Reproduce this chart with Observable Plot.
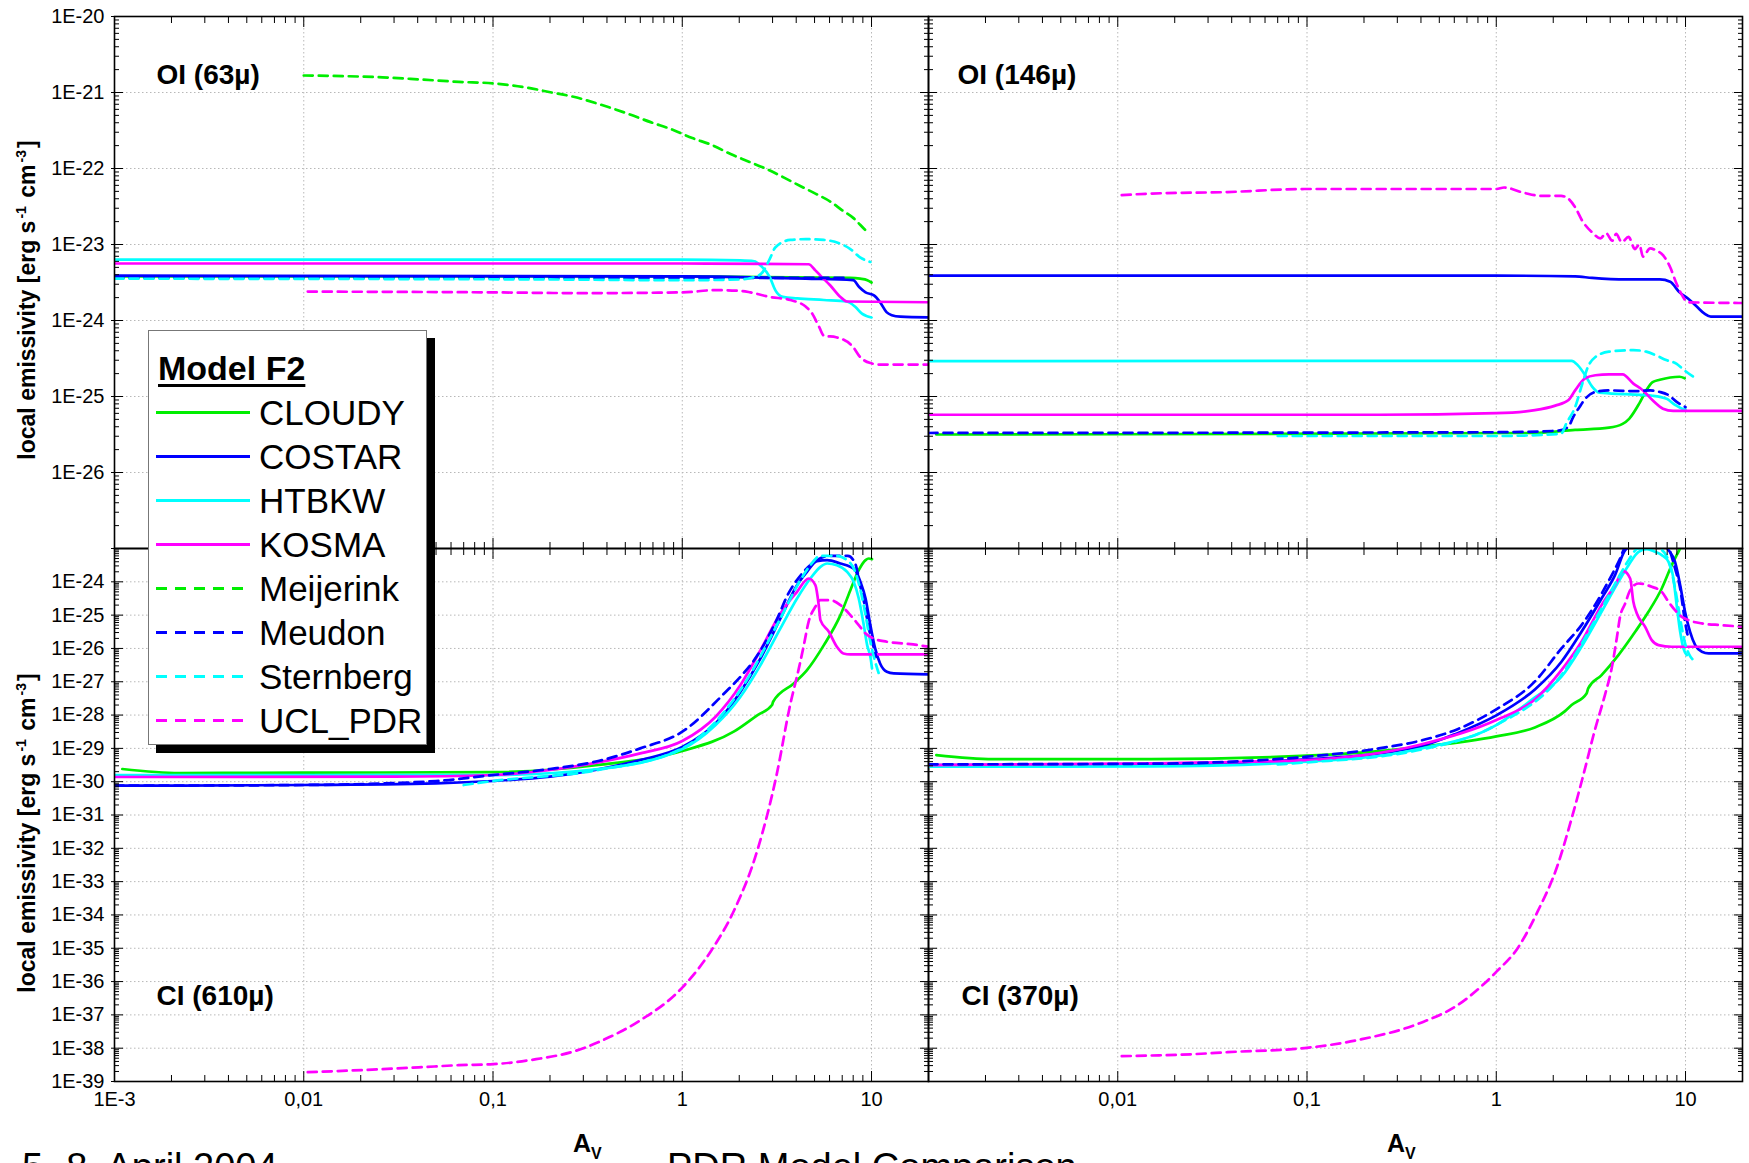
<!DOCTYPE html>
<html>
<head>
<meta charset="utf-8">
<script src="https://cdn.jsdelivr.net/npm/d3@7"></script>
<script src="https://cdn.jsdelivr.net/npm/@observablehq/plot@0.6"></script>
<style>
  body { margin: 0; background: #fff; }
  #wrap { position: relative; width: 1749px; height: 1163px; overflow: hidden; background: #fff;
          font-family: "Liberation Sans", Arial, Helvetica, sans-serif; color: #000; }
  .pnl { position: absolute; }
  .ylab { position: absolute; transform: translate(-50%, -50%) rotate(-90deg); white-space: nowrap;
          font-weight: bold; font-size: 23px; z-index: 5; }
  .ylab sup { font-size: 14px; vertical-align: 9px; line-height: 0; margin: 0 2px; }
  .av { position: absolute; font-weight: bold; font-size: 25px; white-space: nowrap; line-height: 1; }
  .av sub { font-size: 16px; vertical-align: -7px; line-height: 0; }
  .foot { position: absolute; font-size: 38px; white-space: nowrap; line-height: 1; }
  #legend { position: absolute; left: 148px; top: 330px; width: 277px; height: 413px; background: #fff;
            border: 1px solid #777; box-shadow: 8px 8px 0 #000; z-index: 10; }
</style>
</head>
<body>
<div id="wrap"></div>
<script>
// ---------------- categories / labels ----------------
const models = ["CLOUDY", "COSTAR", "HTBKW", "KOSMA", "Meijerink", "Meudon", "Sternberg", "UCL_PDR"];
const modelColors = ["#00ee00", "#0000ff", "#00ffff", "#ff00ff", "#00ee00", "#0000ff", "#00ffff", "#ff00ff"];
const modelDashed = [false, false, false, false, true, true, true, true];
const panelTitles = ["OI (63µ)", "OI (146µ)", "CI (610µ)", "CI (370µ)"];
const legendTitle = "Model F2";
const yAxisTitle = "local emissivity [erg s<sup>-1</sup> cm<sup>-3</sup>]";
const xTickValues = [0.001, 0.01, 0.1, 1, 10];
const xTickLabels = ["1E-3", "0,01", "0,1", "1", "10"];
const yTopTickValues = [1e-20, 1e-21, 1e-22, 1e-23, 1e-24, 1e-25, 1e-26];
const yTopTickLabels = ["1E-20", "1E-21", "1E-22", "1E-23", "1E-24", "1E-25", "1E-26"];
const yBotTickValues = [1e-24, 1e-25, 1e-26, 1e-27, 1e-28, 1e-29, 1e-30, 1e-31, 1e-32, 1e-33, 1e-34, 1e-35, 1e-36, 1e-37, 1e-38, 1e-39];
const yBotTickLabels = ["1E-24", "1E-25", "1E-26", "1E-27", "1E-28", "1E-29", "1E-30", "1E-31", "1E-32", "1E-33", "1E-34", "1E-35", "1E-36", "1E-37", "1E-38", "1E-39"];

// ---------------- data: [A_V, log10(emissivity)] ----------------
// OI (63µ)
const OI63_CLOUDY = [[0.001,-23.42],[1,-23.42],[7.7,-23.44],[8.7,-23.45],[9.5,-23.47],[10,-23.5]];
const OI63_COSTAR = [[0.001,-23.41],[1,-23.42],[4.5,-23.45],[8.0,-23.47],[8.6,-23.56],[9.3,-23.63],[10.3,-23.67],[11.1,-23.76],[12,-23.89],[12.8,-23.93],[14.2,-23.95],[20,-23.96]];
const OI63_HTBKW = [[0.001,-23.2],[1,-23.2],[2.03,-23.21],[2.4,-23.22],[2.6,-23.28],[2.9,-23.43],[3.1,-23.6],[3.4,-23.69],[4.05,-23.71],[5.6,-23.73],[7.4,-23.75],[8.2,-23.82],[8.9,-23.91],[10,-23.96]];
const OI63_KOSMA = [[0.001,-23.25],[1,-23.25],[4.65,-23.26],[5.05,-23.34],[5.37,-23.41],[6.06,-23.54],[6.85,-23.69],[7.4,-23.75],[20,-23.76]];
const OI63_Meijerink = [[0.01,-20.776],[0.0165,-20.785],[0.026,-20.8],[0.042,-20.83],[0.066,-20.86],[0.1,-20.88],[0.154,-20.94],[0.204,-21.0],[0.27,-21.06],[0.36,-21.15],[0.53,-21.29],[0.68,-21.39],[0.89,-21.49],[1.13,-21.6],[1.43,-21.69],[1.8,-21.81],[2.2,-21.9],[2.75,-22.0],[3.45,-22.12],[4.2,-22.23],[5.05,-22.33],[6.1,-22.44],[7,-22.55],[8,-22.65],[9.1,-22.79],[9.7,-22.86]];
const OI63_Meudon = [[0.001,-23.44],[1,-23.44],[7.5,-23.44]];
const OI63_Sternberg = [[0.001,-23.45],[0.2,-23.46],[1,-23.47],[2.0,-23.46],[2.3,-23.44],[2.6,-23.39],[2.9,-23.19],[3.1,-23.04],[3.72,-22.94],[4.5,-22.93],[5.6,-22.94],[6.85,-22.99],[7.73,-23.06],[8.7,-23.17],[9.86,-23.23]];
const OI63_UCL_PDR = [[0.0105,-23.62],[0.1,-23.63],[0.3,-23.64],[1,-23.63],[1.5,-23.6],[2.03,-23.61],[2.29,-23.63],[2.9,-23.69],[3.72,-23.73],[4.5,-23.82],[4.8,-23.89],[5.3,-24.09],[5.6,-24.2],[6.5,-24.22],[8.0,-24.35],[8.7,-24.48],[9.86,-24.56],[11.1,-24.58],[20,-24.58]];

// OI (146µ)
const OI146_CLOUDY = [[0.0011,-25.5],[1.6,-25.48],[2.61,-25.44],[3.94,-25.41],[4.65,-25.36],[5.05,-25.29],[5.7,-25.09],[6.2,-24.92],[6.7,-24.81],[7.31,-24.78],[8.3,-24.75],[9.3,-24.74],[9.9,-24.76]];
const OI146_COSTAR = [[0.001,-23.41],[1,-23.41],[2.61,-23.42],[3.21,-23.44],[4.85,-23.46],[7.31,-23.46],[8.3,-23.49],[9.3,-23.63],[10.3,-23.71],[11.5,-23.82],[12.6,-23.91],[13.6,-23.95],[20,-23.95]];
const OI146_HTBKW = [[0.001,-24.535],[1,-24.53],[2.5,-24.53],[2.7,-24.59],[2.95,-24.72],[3.21,-24.87],[3.5,-24.95],[4.85,-24.97],[6.7,-24.99],[7.95,-25.03],[8.8,-25.11],[9.6,-25.16],[10,-25.17]];
const OI146_KOSMA = [[0.001,-25.24],[0.24,-25.24],[1,-25.22],[1.6,-25.18],[2.05,-25.12],[2.4,-25.05],[2.61,-24.92],[2.95,-24.76],[3.34,-24.72],[3.94,-24.71],[4.65,-24.71],[5.3,-24.83],[5.96,-24.92],[6.7,-25.05],[7.6,-25.16],[8.6,-25.19],[20,-25.19]];
const OI146_Meudon = [[0.001,-25.48],[1,-25.47],[2.13,-25.45],[2.4,-25.4],[2.55,-25.27],[2.75,-25.14],[2.95,-25.03],[3.34,-24.94],[3.94,-24.92],[5.5,-24.93],[6.5,-24.92],[7.31,-24.94],[8.1,-24.98],[8.98,-25.07],[10,-25.14]];
const OI146_Sternberg = [[0.07,-25.52],[1,-25.52],[2.2,-25.49],[2.35,-25.35],[2.61,-25.14],[2.85,-24.83],[3.05,-24.61],[3.34,-24.48],[3.94,-24.41],[5.3,-24.39],[6.2,-24.41],[7.0,-24.46],[7.9,-24.52],[8.98,-24.57],[9.8,-24.65],[11,-24.74]];
const OI146_UCL_PDR = [[0.0105,-22.35],[0.015,-22.33],[0.038,-22.31],[0.097,-22.27],[1.0,-22.27],[1.1,-22.25],[1.4,-22.32],[1.73,-22.36],[2.2,-22.36],[2.35,-22.38],[2.61,-22.51],[2.85,-22.69],[3.21,-22.84],[3.55,-22.92],[3.8,-22.85],[4.1,-22.95],[4.3,-22.86],[4.6,-22.97],[5.0,-22.9],[5.4,-23.06],[5.7,-23.0],[5.96,-23.16],[6.5,-23.05],[7.0,-23.08],[7.6,-23.14],[8.3,-23.3],[8.98,-23.52],[9.6,-23.67],[10.3,-23.76],[20,-23.77]];

// CI (610µ)
const CI610_CLOUDY = [[0.0011,-29.62],[0.0022,-29.74],[0.01,-29.73],[0.1,-29.71],[0.36,-29.5],[1,-29.08],[1.88,-28.49],[2.5,-28.0],[2.98,-27.7],[3.02,-27.6],[3.88,-27.05],[4.56,-26.65],[5.6,-25.9],[6.85,-25.0],[7.73,-24.25],[8.56,-23.65],[9.3,-23.35],[9.67,-23.3],[10.06,-23.32]];
const CI610_COSTAR = [[0.001,-30.12],[0.01,-30.1],[0.05,-30.05],[0.1,-29.98],[0.2,-29.85],[0.36,-29.63],[0.6,-29.35],[1,-28.96],[1.5,-28.25],[2.03,-27.3],[2.59,-26.3],[3.3,-25.1],[4.04,-24.1],[4.56,-23.7],[5.15,-23.38],[5.83,-23.35],[6.85,-23.45],[7.73,-23.55],[8.21,-23.65],[8.73,-24.0],[9.3,-24.5],[9.86,-25.3],[10.45,-26.0],[11.1,-26.45],[12.05,-26.7],[13.1,-26.75],[20,-26.78]];
const CI610_HTBKW = [[0.001,-29.8],[0.1,-29.8],[0.36,-29.62],[1,-29.02],[1.5,-28.3],[2.03,-27.45],[2.59,-26.5],[3.3,-25.4],[4.04,-24.5],[4.75,-23.9],[5.37,-23.55],[5.83,-23.45],[6.56,-23.5],[7.43,-23.7],[8.05,-24.0],[8.56,-24.5],[9.1,-25.3],[9.48,-25.9],[9.9,-26.3],[10.06,-26.6]];
const CI610_KOSMA = [[0.001,-29.86],[0.03,-29.85],[0.1,-29.8],[0.2,-29.65],[0.36,-29.42],[0.6,-29.15],[1,-28.78],[1.5,-28.05],[2.03,-27.1],[2.59,-26.05],[3.3,-24.95],[4.04,-24.3],[4.65,-23.9],[5.05,-24.1],[5.26,-24.7],[5.37,-25.15],[5.95,-25.5],[6.56,-25.95],[7.1,-26.15],[7.73,-26.18],[20,-26.18]];
const CI610_Meudon = [[0.001,-30.12],[0.01,-30.1],[0.05,-29.98],[0.1,-29.8],[0.2,-29.62],[0.36,-29.38],[0.6,-29.0],[1,-28.5],[1.7,-27.3],[2.03,-26.85],[2.5,-26.2],[3.15,-25.15],[3.6,-24.4],[4.3,-23.75],[5.1,-23.36],[6,-23.22],[7.5,-23.22],[8.2,-23.45],[8.7,-24.1],[9.2,-24.7],[9.6,-25.3],[10.25,-25.95],[10.6,-26.25]];
const CI610_Sternberg = [[0.07,-30.1],[0.1,-29.98],[0.36,-29.65],[1,-29.0],[2.03,-27.25],[3.3,-25.1],[4.21,-23.95],[4.75,-23.5],[5.37,-23.22],[6.5,-23.22],[7.43,-23.35],[8.2,-23.7],[8.7,-24.2],[9.3,-25.0],[9.86,-25.8],[10.45,-26.4],[11,-26.8]];
const CI610_UCL_PDR = [[0.0105,-38.72],[0.026,-38.63],[0.042,-38.57],[0.066,-38.51],[0.1,-38.48],[0.169,-38.33],[0.27,-38.09],[0.37,-37.79],[0.59,-37.19],[1,-36.18],[1.43,-35.05],[1.88,-33.86],[2.49,-32.07],[3.15,-29.8],[3.72,-27.68],[4.13,-26.6],[4.39,-25.9],[4.65,-25.2],[5.05,-24.75],[5.37,-24.55],[6.06,-24.55],[6.85,-24.7],[7.73,-25.0],[8.56,-25.3],[9.3,-25.55],[10.25,-25.7],[12.05,-25.8],[16.6,-25.88],[20,-25.95]];

// CI (370µ)
const CI370_CLOUDY = [[0.0011,-29.2],[0.0022,-29.32],[0.015,-29.32],[0.1,-29.22],[0.39,-28.96],[1,-28.64],[1.6,-28.37],[2.3,-27.89],[2.5,-27.7],[3.0,-27.35],[3.06,-27.2],[3.6,-26.8],[4.42,-26.2],[5.42,-25.5],[6.37,-24.9],[7.49,-24.2],[8.46,-23.5],[9.17,-23.1],[9.56,-22.9]];
const CI370_COSTAR = [[0.001,-29.5],[0.015,-29.48],[0.1,-29.33],[0.39,-28.95],[0.62,-28.55],[1,-28.01],[1.6,-27.23],[2.21,-26.4],[2.82,-25.5],[3.6,-24.5],[4.24,-23.8],[4.8,-23.05],[5.5,-22.85],[7.5,-22.85],[8.13,-23.05],[8.8,-23.4],[9.37,-24.1],[9.94,-24.9],[10.57,-25.5],[11.25,-25.9],[12.2,-26.1],[13.25,-26.15],[20,-26.15]];
const CI370_HTBKW = [[0.001,-29.55],[0.015,-29.54],[0.1,-29.4],[0.39,-29.02],[1,-28.3],[1.6,-27.47],[2.21,-26.85],[2.82,-25.95],[3.6,-24.9],[4.42,-24.0],[5.0,-23.5],[5.65,-23.1],[6.25,-23.02],[6.9,-23.1],[7.49,-23.2],[8.13,-23.4],[8.63,-23.9],[8.98,-24.7],[9.37,-25.5],[9.75,-26.0],[10.15,-26.2]];
const CI370_KOSMA = [[0.001,-29.5],[0.015,-29.45],[0.1,-29.35],[0.39,-28.9],[1,-28.15],[1.6,-27.53],[2.21,-26.65],[2.82,-25.8],[3.6,-24.7],[4.24,-24.1],[4.7,-23.68],[5.1,-23.9],[5.3,-24.6],[5.53,-24.95],[6.12,-25.35],[6.63,-25.75],[7.2,-25.9],[8.46,-25.95],[20,-25.95]];
const CI370_Meudon = [[0.001,-29.48],[0.015,-29.46],[0.1,-29.25],[0.24,-29.0],[0.39,-28.78],[0.62,-28.43],[1,-27.83],[1.6,-26.99],[2.21,-26.0],[2.82,-25.3],[3.32,-24.7],[3.9,-24.0],[4.51,-23.3],[4.8,-22.95],[5.3,-22.8],[7.8,-22.8],[8.3,-23.1],[8.8,-23.6],[9.37,-24.2],[9.94,-25.2],[10.35,-25.7]];
const CI370_Sternberg = [[0.07,-29.48],[0.1,-29.42],[0.39,-29.05],[1,-28.3],[2.21,-26.8],[3.6,-24.8],[4.4,-23.9],[5.0,-23.35],[5.6,-23.0],[6.5,-22.95],[7.5,-23.05],[8.1,-23.35],[8.6,-23.9],[9.0,-24.5],[9.5,-25.3],[10.0,-25.9],[10.5,-26.2],[11,-26.35]];
const CI370_UCL_PDR = [[0.0105,-38.24],[0.015,-38.22],[0.025,-38.18],[0.038,-38.12],[0.1,-37.99],[0.195,-37.73],[0.39,-37.26],[0.62,-36.72],[1,-35.71],[1.3,-34.99],[1.65,-33.91],[2.1,-32.54],[2.5,-31.11],[2.9,-29.75],[3.3,-28.5],[3.75,-27.4],[4.07,-26.6],[4.33,-25.7],[4.51,-25.05],[4.8,-24.65],[5.1,-24.25],[5.65,-24.05],[6.63,-24.15],[7.49,-24.3],[8.13,-24.6],[8.8,-24.85],[9.56,-25.05],[10.35,-25.15],[12.2,-25.25],[15.5,-25.3],[20,-25.35]];

const seriesByKey = {
  OI63_CLOUDY, OI63_COSTAR, OI63_HTBKW, OI63_KOSMA, OI63_Meijerink, OI63_Meudon, OI63_Sternberg, OI63_UCL_PDR,
  OI146_CLOUDY, OI146_COSTAR, OI146_HTBKW, OI146_KOSMA, OI146_Meudon, OI146_Sternberg, OI146_UCL_PDR,
  CI610_CLOUDY, CI610_COSTAR, CI610_HTBKW, CI610_KOSMA, CI610_Meudon, CI610_Sternberg, CI610_UCL_PDR,
  CI370_CLOUDY, CI370_COSTAR, CI370_HTBKW, CI370_KOSMA, CI370_Meudon, CI370_Sternberg, CI370_UCL_PDR
};

// ---------------- layout ----------------
const W = document.getElementById("wrap");
const minors = (lo, hi) => {
  const out = [];
  for (let e = Math.round(Math.log10(lo)); e <= Math.round(Math.log10(hi)); e++)
    for (let k = 2; k <= 9; k++) { const v = k * Math.pow(10, e); if (v > lo && v < hi) out.push(v); }
  return out;
};
const decades = (e0, e1) => d3.range(e0, e1 + 1).map(e => Math.pow(10, e));

function makePanel(cfg) {
  const {fx, fy, fw, fh, yDom, title, tdx, tdy, series, yLab, xLab} = cfg;
  const mL = yLab ? 112 : 14, mR = 14, mT = 14, mB = xLab ? 40 : 14;
  const yMaj = decades(Math.round(Math.log10(yDom[0])), Math.round(Math.log10(yDom[1])));
  const yMin = minors(yDom[0], yDom[1]);
  const xMaj = xTickValues;
  const xMin = minors(1e-3, 20);
  const gridStyle = {stroke: "#b8b8b8", strokeWidth: 1, strokeDasharray: "1.5,2.5"};
  const marks = [
    Plot.ruleX(xMaj.filter(v => v > 1e-3), gridStyle),
    Plot.ruleY(yMaj.filter(v => v > yDom[0] * 1.01 && v < yDom[1] * 0.99), gridStyle)
  ];
  for (const s of series) {
    const i = models.indexOf(s.name);
    marks.push(Plot.line(s.data, {
      x: d => d[0], y: d => Math.pow(10, d[1]),
      stroke: modelColors[i], strokeWidth: 2.7,
      strokeDasharray: modelDashed[i] ? "9,6" : null,
      curve: "monotone-x", clip: true, strokeLinejoin: "round"
    }));
  }
  const blank = () => "";
  for (const anchor of ["top", "bottom"]) {
    marks.push(Plot.axisX({ticks: xMin, anchor, tickSize: -6, tickFormat: blank, label: null}));
    marks.push(Plot.axisX({ticks: xMaj, anchor, tickSize: -10, tickFormat: blank, label: null}));
  }
  for (const anchor of ["left", "right"]) {
    marks.push(Plot.axisY({ticks: yMin, anchor, tickSize: -5, tickFormat: blank, label: null}));
    marks.push(Plot.axisY({ticks: yMaj, anchor, tickSize: -9, tickFormat: blank, label: null}));
  }
  if (yLab) {
    const m = new Map(yLab.vals.map((v, i) => [v, yLab.labels[i]]));
    marks.push(Plot.axisY({ticks: yMaj, anchor: "left", tickSize: 3, tickFormat: blank, label: null}));
    marks.push(Plot.axisY({ticks: yLab.vals, anchor: "left", tickSize: 0, tickPadding: 10,
      tickFormat: d => m.get(d), fontSize: 20, label: null}));
  }
  if (xLab) {
    const m = new Map(xLab.vals.map((v, i) => [v, xLab.labels[i]]));
    marks.push(Plot.axisX({ticks: xLab.vals, anchor: "bottom", tickSize: 0, tickPadding: 10,
      tickFormat: d => m.get(d), fontSize: 20, label: null}));
  }
  marks.push(Plot.frame({stroke: "#000", strokeWidth: 1.6}));
  marks.push(Plot.text([title], {text: d => d, frameAnchor: "top-left", dx: tdx, dy: tdy,
    fontSize: 28, fontWeight: "bold", textAnchor: "start", lineAnchor: "middle", fill: "#000"}));

  const svg = Plot.plot({
    width: fw + mL + mR, height: fh + mT + mB,
    marginLeft: mL, marginRight: mR, marginTop: mT, marginBottom: mB,
    x: {type: "log", domain: [1e-3, 20], axis: null},
    y: {type: "log", domain: yDom, axis: null},
    style: {background: "transparent", overflow: "visible", maxWidth: "none",
            fontFamily: "'Liberation Sans', Arial, sans-serif", fontSize: "20px", color: "#000"},
    marks
  });
  svg.classList.add("pnl");
  svg.style.left = (fx - mL) + "px";
  svg.style.top = (fy - mT) + "px";
  W.appendChild(svg);
}

const ser = (prefix, list) => list.map(n => ({name: n, data: seriesByKey[prefix + "_" + n]}));
const topDom = [1e-27, 1e-20], botDom = [1e-39, 1e-23];
const noMeij = models.filter(m => m !== "Meijerink");

makePanel({fx: 114, fy: 16, fw: 814, fh: 532, yDom: topDom, title: panelTitles[0], tdx: 42, tdy: 59,
  series: ser("OI63", models), yLab: {vals: yTopTickValues, labels: yTopTickLabels}});
makePanel({fx: 928, fy: 16, fw: 814, fh: 532, yDom: topDom, title: panelTitles[1], tdx: 29, tdy: 59,
  series: ser("OI146", noMeij)});
makePanel({fx: 114, fy: 548, fw: 814, fh: 533, yDom: botDom, title: panelTitles[2], tdx: 42, tdy: 448,
  series: ser("CI610", noMeij), yLab: {vals: yBotTickValues, labels: yBotTickLabels},
  xLab: {vals: xTickValues, labels: xTickLabels}});
makePanel({fx: 928, fy: 548, fw: 814, fh: 533, yDom: botDom, title: panelTitles[3], tdx: 33, tdy: 448,
  series: ser("CI370", noMeij), xLab: {vals: xTickValues.slice(1), labels: xTickLabels.slice(1)}});

// ---------------- text around the panels ----------------
function addDiv(cls, html, style) {
  const d = document.createElement("div");
  d.className = cls; d.innerHTML = html; Object.assign(d.style, style); W.appendChild(d); return d;
}
addDiv("ylab", yAxisTitle, {left: "27px", top: "300px"});
addDiv("ylab", yAxisTitle, {left: "27px", top: "833px"});
addDiv("av", "A<sub>V</sub>", {left: "573px", top: "1131px"});
addDiv("av", "A<sub>V</sub>", {left: "1387px", top: "1131px"});
addDiv("foot", "5.-8. April 2004", {left: "22px", top: "1148px"});
addDiv("foot", "PDR Model Comparison", {left: "667px", top: "1148px"});

// ---------------- legend ----------------
const lg = document.createElement("div");
lg.id = "legend";
let h = `<div style="position:absolute;left:9px;top:20px;font-weight:bold;font-size:34px;line-height:1;text-decoration:underline;text-decoration-thickness:3px;text-underline-offset:4px;">${legendTitle}</div>`;
h += `<svg width="277" height="413" style="position:absolute;left:0;top:0;overflow:visible">`;
models.forEach((m, i) => {
  const cy = 81.5 + i * 44;
  h += `<line x1="7" x2="101" y1="${cy}" y2="${cy}" stroke="${modelColors[i]}" stroke-width="3" ${modelDashed[i] ? 'stroke-dasharray="11,8"' : ''}/>`;
  h += `<text x="110" y="${cy + 12.5}" font-size="35" font-family="'Liberation Sans', Arial, sans-serif" fill="#000">${m}</text>`;
});
h += `</svg>`;
lg.innerHTML = h;
W.appendChild(lg);
</script>
</body>
</html>
